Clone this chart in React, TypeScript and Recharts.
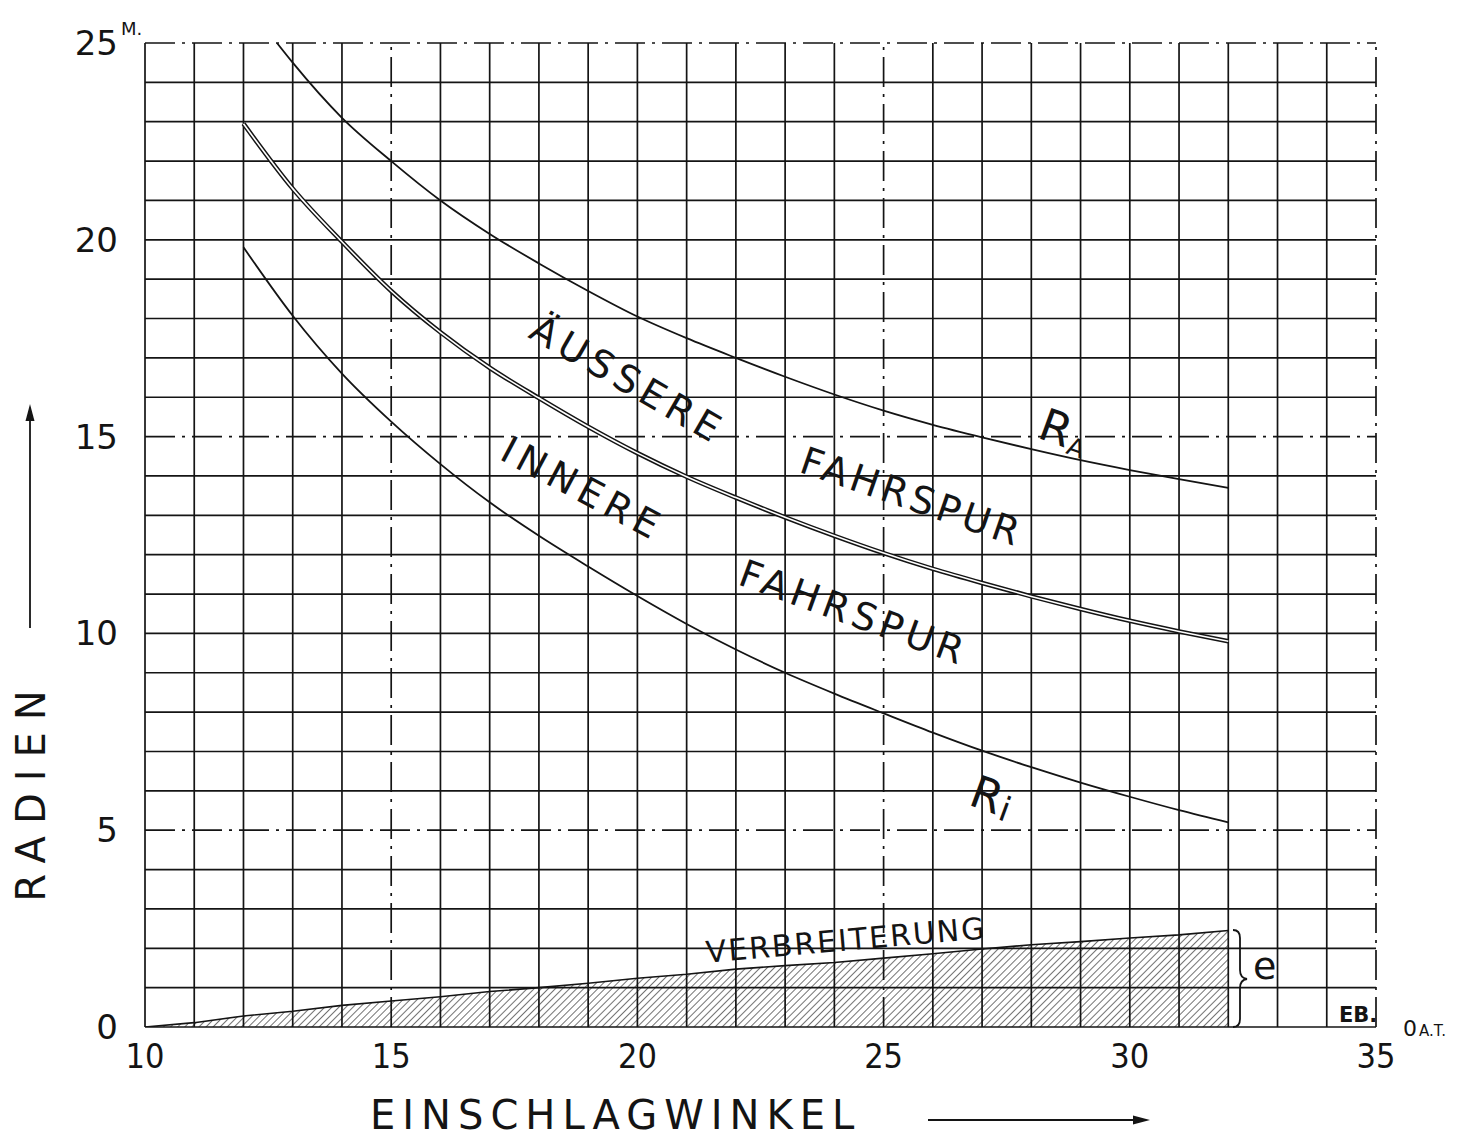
import React from "react";
import { ComposedChart, XAxis, YAxis, Line, Area, ReferenceLine } from "recharts";

// ---- data ----
const outerAngles = [12.68, 13, 14, 15, 16, 17, 18, 19, 20, 21, 22, 23, 24, 25, 26, 27, 28, 29, 30, 31, 32];
const outerRadius = [25, 24.5, 23.1, 22.0, 21.0, 20.15, 19.4, 18.7, 18.05, 17.5, 17.0, 16.52, 16.07, 15.66, 15.3, 14.98, 14.68, 14.4, 14.15, 13.92, 13.7];

const trackAngles = [12, 13, 14, 15, 16, 17, 18, 19, 20, 21, 22, 23, 24, 25, 26, 27, 28, 29, 30, 31, 32];
const middleRadius = [22.95, 21.3, 19.95, 18.7, 17.65, 16.75, 15.98, 15.25, 14.58, 13.98, 13.45, 12.95, 12.48, 12.04, 11.64, 11.28, 10.94, 10.62, 10.32, 10.05, 9.8];
const innerRadius = [19.81, 18.07, 16.6, 15.38, 14.3, 13.33, 12.48, 11.7, 10.95, 10.24, 9.59, 9.0, 8.47, 7.97, 7.48, 7.02, 6.6, 6.21, 5.85, 5.51, 5.2];

const wideningAngles = [10, 11, 12, 13, 14, 15, 16, 17, 18, 19, 20, 21, 22, 23, 24, 25, 26, 27, 28, 29, 30, 31, 32];
const widening = [0, 0.11, 0.28, 0.4, 0.55, 0.66, 0.77, 0.9, 1.0, 1.11, 1.24, 1.34, 1.47, 1.56, 1.64, 1.75, 1.86, 1.98, 2.09, 2.17, 2.26, 2.34, 2.45];

const angleTicks = [10, 15, 20, 25, 30, 35];
const radiusTicks = [0, 5, 10, 15, 20, 25];
const gridAngles = [10, 11, 12, 13, 14, 15, 16, 17, 18, 19, 20, 21, 22, 23, 24, 25, 26, 27, 28, 29, 30, 31, 32, 33, 34, 35];
const gridRadii = [0, 1, 2, 3, 4, 5, 6, 7, 8, 9, 10, 11, 12, 13, 14, 15, 16, 17, 18, 19, 20, 21, 22, 23, 24, 25];
const dashDotAngles = [15, 25, 35];
const dashDotRadii = [5, 15, 25];

// merged table for the chart
const allX = Array.from(new Set([...outerAngles, ...trackAngles, ...wideningAngles])).sort((a, b) => a - b);
const rows = allX.map((x) => {
  const io = outerAngles.indexOf(x);
  const it = trackAngles.indexOf(x);
  const iw = wideningAngles.indexOf(x);
  return {
    x,
    ra: io >= 0 ? outerRadius[io] : null,
    mid: it >= 0 ? middleRadius[it] : null,
    ri: it >= 0 ? innerRadius[it] : null,
    e: iw >= 0 ? widening[iw] : null,
  };
});

const FONT = '"DejaVu Sans", sans-serif';
const INK = "#141414";

const XTick = (props: any) => {
  const { x, y, payload } = props;
  return (
    <text
      x={x}
      y={y + 29}
      textAnchor="middle"
      dominantBaseline="central"
      fontFamily='"Liberation Sans Narrow", "DejaVu Sans Condensed", sans-serif'
      fontSize={34}
      fill={INK}
    >
      {payload.value}
    </text>
  );
};

const YTick = (props: any) => {
  const { x, y, payload } = props;
  return (
    <text x={x - 27} y={y} textAnchor="end" dominantBaseline="central" fontFamily={FONT} fontSize={34} fill={INK}>
      {payload.value}
    </text>
  );
};

const W = 1443;
const H = 1124;

export default function App() {
  return (
    <div style={{ position: "relative", width: W, height: 1132, background: "#fff" }}>
      <ComposedChart width={W} height={H} data={rows} margin={{ top: 35, right: 75, bottom: 45, left: 0 }}>
        <defs>
          <pattern id="hatch" width="5" height="5" patternUnits="userSpaceOnUse" patternTransform="rotate(45)">
            <line x1="0" y1="0" x2="0" y2="5" stroke={INK} strokeWidth="1.2" />
          </pattern>
        </defs>
        <XAxis
          type="number"
          dataKey="x"
          domain={[10, 35]}
          ticks={angleTicks}
          allowDataOverflow
          axisLine={false}
          tickLine={false}
          tickSize={0}
          tickMargin={0}
          height={60}
          tick={<XTick />}
          interval={0}
        />
        <YAxis
          type="number"
          domain={[0, 25]}
          ticks={radiusTicks}
          allowDataOverflow
          axisLine={false}
          tickLine={false}
          tickSize={0}
          tickMargin={0}
          width={137}
          tick={<YTick />}
          interval={0}
        />
        {gridAngles.map((g) => (
          <ReferenceLine
            key={"gx" + g}
            x={g}
            stroke={INK}
            strokeWidth={1.7}
            strokeDasharray={dashDotAngles.includes(g) ? "30 7 3 7" : undefined}
          />
        ))}
        {gridRadii.map((g) => (
          <ReferenceLine
            key={"gy" + g}
            y={g}
            stroke={INK}
            strokeWidth={1.7}
            strokeDasharray={dashDotRadii.includes(g) ? "30 7 3 7" : undefined}
          />
        ))}
        <Area
          dataKey="e"
          type="linear"
          fill="url(#hatch)"
          fillOpacity={1}
          stroke={INK}
          strokeWidth={1.6}
          connectNulls
          isAnimationActive={false}
          dot={false}
          activeDot={false}
        />
        <Line dataKey="ra" type="monotone" stroke={INK} strokeWidth={1.8} dot={false} activeDot={false} connectNulls isAnimationActive={false} />
        <Line dataKey="mid" type="monotone" stroke={INK} strokeWidth={4.6} dot={false} activeDot={false} connectNulls isAnimationActive={false} />
        <Line dataKey="mid" type="monotone" stroke="#ffffff" strokeWidth={1.6} dot={false} activeDot={false} connectNulls isAnimationActive={false} />
        <Line dataKey="ri" type="monotone" stroke={INK} strokeWidth={1.8} dot={false} activeDot={false} connectNulls isAnimationActive={false} />
      </ComposedChart>

      <svg
        width={W}
        height={1132}
        style={{ position: "absolute", left: 0, top: 0, pointerEvents: "none", overflow: "visible" }}
        fontFamily={FONT}
        fill={INK}
      >
        {/* unit on y axis */}
        <text x={113} y={27} fontSize={18}>M.</text>

        {/* y axis title with arrow */}
        <text x={37} y={782} fontSize={40} letterSpacing={12} textAnchor="middle" transform="rotate(-90 37 782)">
          RADIEN
        </text>
        <line x1={22} y1={620} x2={22} y2={408} stroke={INK} strokeWidth={1.8} />
        <polygon points="22,396 17.5,413 26.5,413" fill={INK} />

        {/* x axis title with arrow */}
        <text x={362} y={1121} fontSize={40} letterSpacing={7}>
          EINSCHLAGWINKEL
        </text>
        <line x1={920} y1={1112} x2={1128} y2={1112} stroke={INK} strokeWidth={1.8} />
        <polygon points="1142,1112 1125,1107.5 1125,1116.5" fill={INK} />

        {/* degree / A.T. */}
        <text x={1395} y={1028} fontSize={22}>
          0<tspan fontSize={15} dx={2}>A.T.</tspan>
        </text>

        {/* curve labels */}
        <text x={620} y={372} fontSize={38} letterSpacing={6} textAnchor="middle" dominantBaseline="central" transform="rotate(30 620 372)">
          ÄUSSERE
        </text>
        <text x={904} y={489} fontSize={38} letterSpacing={4} textAnchor="middle" dominantBaseline="central" transform="rotate(19 904 489)">
          FAHRSPUR
        </text>
        <text x={575} y={481} fontSize={38} letterSpacing={6} textAnchor="middle" dominantBaseline="central" transform="rotate(28 575 481)">
          INNERE
        </text>
        <text x={846} y={605} fontSize={38} letterSpacing={5} textAnchor="middle" dominantBaseline="central" transform="rotate(20 846 605)">
          FAHRSPUR
        </text>

        <text x={1048} y={420} fontSize={45} textAnchor="middle" dominantBaseline="central" transform="rotate(20 1048 420)">
          R
        </text>
        <text x={1068} y={440} fontSize={25} textAnchor="middle" dominantBaseline="central" transform="rotate(20 1068 440)">
          A
        </text>
        <text x={979} y={787} fontSize={45} textAnchor="middle" dominantBaseline="central" transform="rotate(20 979 787)">
          R
        </text>
        <text x={997} y={801} fontSize={34} textAnchor="middle" dominantBaseline="central" transform="rotate(20 997 801)">
          i
        </text>

        <text x={838} y={932} fontSize={30} letterSpacing={2} textAnchor="middle" dominantBaseline="central" transform="rotate(-5 838 932)">
          VERBREITERUNG
        </text>

        {/* brace and e */}
        <path
          d="M 1225 922 Q 1232 922 1232 930 L 1232 962 Q 1232 970 1239 971 Q 1232 972 1232 980 L 1232 1011 Q 1232 1019 1225 1019"
          fill="none"
          stroke={INK}
          strokeWidth={1.8}
        />
        <text x={1245} y={971} fontSize={38}>e</text>

        {/* signature */}
        <text x={1331} y={1014} fontSize={21} fontWeight="bold">EB.</text>
      </svg>
    </div>
  );
}
